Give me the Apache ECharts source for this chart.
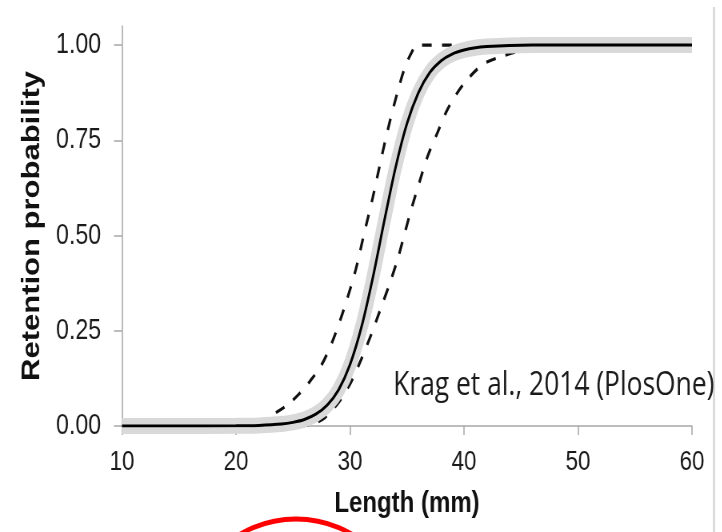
<!DOCTYPE html>
<html>
<head>
<meta charset="utf-8">
<script src="https://cdn.jsdelivr.net/npm/echarts@6/dist/echarts.min.js"></script>
<style>
   html, body { margin: 0; padding: 0; background: #fff; overflow: hidden; }
   #wrap { width: 722px; height: 532px; overflow: hidden; position: relative; }
   /* the source picture is squeezed sideways, so draw wide and squeeze */
   #main { width: 902px; height: 532px; transform: scaleX(0.8); transform-origin: 0 0; }
</style>
</head>
<body>
<div id="wrap"><div id="main"></div></div>
<script>
// fitted retention curve (solid) and its grey band
var lengthMm = [10, 15, 20, 22, 24, 25, 26, 27, 28, 29, 30, 31, 32, 33, 34, 35, 36, 37, 38, 39, 40, 41, 42, 44, 46, 50, 55, 60];
var retention = [0, 0, 0.0005, 0.0016, 0.005, 0.0095, 0.017, 0.031, 0.055, 0.095, 0.161, 0.259, 0.389, 0.537, 0.679, 0.794, 0.875, 0.928, 0.959, 0.977, 0.987, 0.993, 0.996, 0.999, 1, 1, 1, 1];

// dashed confidence limits
var upperX = [23.5, 24.5, 25.5, 26.5, 27.5, 28.5, 29.5, 30.5, 31.2, 32.0, 32.8, 33.5, 34.2, 34.8, 35.4, 35.9, 42, 60];
var upperY = [0.035, 0.055, 0.083, 0.118, 0.16, 0.225, 0.31, 0.41, 0.5, 0.6, 0.71, 0.8, 0.88, 0.94, 0.98, 1, 1, 1];
var lowerX = [25.5, 26.6, 27.8, 29.1, 30.1, 31.0, 31.9, 32.7, 33.5, 34.2, 34.8, 35.4, 36.1, 36.8, 37.7, 38.6, 39.9, 41.6, 43.3, 45, 48, 60];
var lowerY = [0, 0.004, 0.022, 0.066, 0.116, 0.176, 0.243, 0.309, 0.375, 0.44, 0.506, 0.571, 0.641, 0.707, 0.772, 0.834, 0.895, 0.948, 0.97, 0.985, 0.995, 1];

var yTicks = [0, 0.25, 0.5, 0.75, 1];

var font = "'Liberation Sans', Arial, sans-serif";

function pairs(xs, ys) {
   return xs.map(function (x, i) { return [x, ys[i]]; });
}

var chart = echarts.init(document.getElementById('main'), null, { renderer: 'canvas' });

var axisGrey = '#a6a6a6';
var dashStyle = { color: '#111', width: 3.2, type: [12, 13] };

chart.setOption({
   animation: false,
   backgroundColor: '#fff',
   grid: { left: 152.5, right: 37, top: 26, bottom: 106, outerBoundsMode: 'none' },
   xAxis: {
      type: 'value', min: 10, max: 60, interval: 10,
      axisLine: { show: true, lineStyle: { color: axisGrey, width: 1.5 } },
      axisTick: { show: true, inside: false, length: 9, lineStyle: { color: axisGrey, width: 1.5 } },
      axisLabel: { fontSize: 28, margin: 22, color: '#1a1a1a', fontFamily: font },
      splitLine: { show: false },
      name: 'Length (mm)', nameLocation: 'middle', nameGap: 63,
      nameTextStyle: { fontSize: 30, fontWeight: 'bold', color: '#111', fontFamily: font }
   },
   yAxis: {
      type: 'value', min: 0, max: 1.05, interval: 0.25,
      axisLine: { show: true, lineStyle: { color: axisGrey, width: 1.5 } },
      axisTick: { show: true, inside: false, length: 10, customValues: yTicks, lineStyle: { color: axisGrey, width: 1.5 } },
      axisLabel: {
         customValues: yTicks, fontSize: 29, margin: 26, color: '#1a1a1a', fontFamily: font,
         formatter: function (v) { return v.toFixed(2); }
      },
      splitLine: { show: false },
      name: 'Retention probability', nameLocation: 'middle', nameGap: 97, nameRotate: 90,
      nameTextStyle: { fontSize: 31, fontWeight: 'bold', color: '#111', fontFamily: font }
   },
   series: [
      {
         name: 'upper', type: 'line', data: pairs(upperX, upperY), showSymbol: false, silent: true,
         smooth: 0.3, lineStyle: dashStyle
      },
      {
         name: 'lower', type: 'line', data: pairs(lowerX, lowerY), showSymbol: false, silent: true,
         smooth: 0.3, lineStyle: dashStyle
      },
      {
         name: 'band', type: 'line', data: pairs(lengthMm, retention), showSymbol: false, silent: true,
         smooth: 0.3, lineStyle: { color: '#d9d9d9', width: 16, cap: 'butt' }
      },
      {
         name: 'fit', type: 'line', data: pairs(lengthMm, retention), showSymbol: false, silent: true,
         smooth: 0.3, lineStyle: { color: '#000', width: 3 }
      }
   ],
   graphic: [
      {
         type: 'text', left: 491.5, top: 369, silent: true,
         style: { text: 'Krag et al., 2014 (PlosOne)', fill: '#1a1a1a', font: "33px 'Open Sans', sans-serif" }
      },
      {
         type: 'line', silent: true,
         shape: { x1: 892.5, y1: 7, x2: 892.5, y2: 532 },
         style: { stroke: '#bdbdbd', lineWidth: 1.5 }
      },
      {
         type: 'ellipse', silent: true,
         shape: { cx: 370, cy: 629, rx: 137.5, ry: 110 },
         style: { fill: 'none', stroke: '#ff0000', lineWidth: 5 }
      }
   ]
});
</script>
</body>
</html>
